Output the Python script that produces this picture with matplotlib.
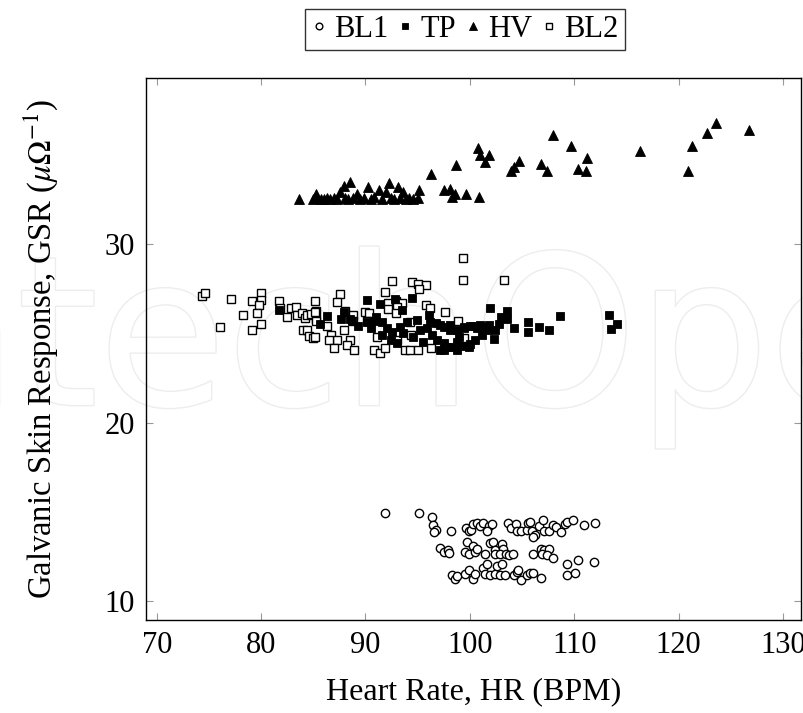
import matplotlib
matplotlib.use('Agg')
import matplotlib.pyplot as plt
import matplotlib.patheffects as pe

plt.rcParams['font.family'] = ['Liberation Serif', 'DejaVu Serif']
plt.rcParams['mathtext.fontset'] = 'stix'

# BL1 (open circles)
bl1_x = [91.9, 95.1, 96.4, 96.5, 96.8, 96.6, 98.2,
         99.6, 99.9, 100.1, 100.3, 100.7, 101.0, 101.3, 101.8, 102.1, 101.6,
         103.7, 103.95, 104.4, 104.5, 104.95, 105.5, 105.6, 105.8, 105.95, 106.2, 106.1, 106.6, 107.0, 107.1, 107.55,
         108.0, 108.3, 108.7, 109.1, 109.3, 109.9, 110.9, 112.0,
         97.15, 97.5, 97.9, 98.05, 99.7, 100.3, 99.55, 99.9, 100.5, 100.7,
         101.5, 101.9, 102.2, 102.4, 103.1, 103.2, 102.4, 102.9, 103.5, 103.8, 104.1,
         106.1, 106.8, 107.1, 106.95, 107.6, 107.4, 108.0, 109.3, 110.4, 111.9,
         98.3, 98.6, 98.8, 99.55, 99.9, 100.35, 100.5,
         101.3, 101.5, 101.6, 101.9, 102.4, 102.6, 102.9, 103.1, 103.35,
         104.2, 104.5, 104.6, 104.95, 105.5, 105.8, 106.1, 106.8, 109.3, 110.1]
bl1_y = [14.95, 14.95, 14.7, 14.25, 14.0, 13.85, 13.95,
         14.07, 13.9, 14.0, 14.3, 14.35, 14.2, 14.35, 14.2, 14.3, 13.9,
         14.4, 14.1, 14.3, 13.95, 13.9, 14.0, 14.35, 14.45, 13.9, 13.7, 13.6, 14.2, 14.55, 13.9, 13.9,
         14.25, 14.15, 13.85, 14.3, 14.45, 14.55, 14.25, 14.35,
         13.0, 12.75, 12.85, 12.7, 13.3, 13.1, 12.75, 12.65, 12.75, 12.9,
         12.65, 13.25, 13.3, 12.85, 13.2, 12.9, 12.65, 12.65, 12.65, 12.6, 12.65,
         12.65, 12.9, 12.85, 12.65, 12.9, 12.6, 12.4, 12.1, 12.3, 12.2,
         11.45, 11.25, 11.4, 11.5, 11.75, 11.25, 11.5,
         11.85, 11.5, 12.1, 11.45, 11.5, 11.95, 11.45, 12.1, 11.45,
         11.45, 11.65, 11.75, 11.2, 11.45, 11.55, 11.6, 11.3, 11.45, 11.55]

# TP (filled squares)
tp_x = [81.7, 85.6, 86.3, 87.7, 87.9, 88.5, 88.7, 89.3, 90.1, 90.1, 90.5, 90.9, 91.0, 91.4, 91.6,
        92.85, 93.5, 94.45, 92.05, 92.5, 93.3, 93.6, 91.6, 92.4, 93.0, 94.0, 94.9, 94.6, 95.5,
        95.25, 95.9, 96.05, 96.2, 96.4, 96.8, 97.5, 98.1, 98.75, 99.4, 100.0, 100.7, 101.3, 101.8,
        96.85, 97.5, 98.1, 98.75, 99.4, 100.0, 97.5, 98.75, 97.15, 98.1, 99.4, 100.35, 101.0, 101.6,
        97.8, 99.9, 97.15, 99.0, 100.5, 101.2, 101.9, 102.8, 103.0, 103.55, 103.6, 104.2, 102.4, 102.3,
        105.6, 105.6, 106.6, 107.55, 108.65, 113.3, 114.1, 113.5]
tp_y = [26.3, 25.5, 25.95, 25.8, 26.2, 25.8, 25.7, 25.4, 26.85, 25.65, 25.3, 25.7, 25.9, 26.65, 25.65,
        26.9, 26.3, 27.0, 25.3, 25.1, 25.35, 25.0, 24.9, 24.6, 24.45, 25.65, 25.75, 24.8, 24.5,
        25.2, 25.3, 26.0, 25.65, 24.9, 25.55, 25.35, 25.45, 25.2, 25.35, 25.4, 25.3, 25.35, 25.45,
        24.6, 24.45, 24.25, 24.5, 24.3, 24.4, 24.05, 24.05, 25.45, 25.2, 25.3, 25.4, 25.45, 25.2,
        24.25, 24.25, 24.05, 24.8, 24.6, 24.9, 26.4, 25.5, 25.9, 26.25, 25.8, 25.3, 25.2, 24.7,
        25.65, 25.1, 25.35, 25.2, 25.95, 26.0, 25.5, 25.25]

# HV (filled triangles)
hv_x = [83.6, 85.0, 85.3, 85.4, 85.7, 86.0, 86.3, 86.6, 87.0, 87.3, 87.6, 87.9, 88.0, 88.3, 88.5,
        88.8, 89.2, 89.5, 89.9, 90.2, 90.5, 90.8, 91.3, 91.6, 92.0, 92.3, 92.4, 92.7, 93.1, 93.3,
        93.6, 93.9, 94.2, 94.6, 95.0, 95.1, 96.3, 97.5, 98.1, 98.6, 98.3, 99.6, 100.9,
        98.7, 100.8, 101.0, 101.8, 101.5, 103.9, 104.2, 104.7, 106.8, 107.4,
        108.0, 109.7, 110.4, 111.2, 111.1, 116.3, 120.9, 121.3, 122.7, 123.6, 126.8]
hv_y = [32.5, 32.55, 32.8, 32.6, 32.5, 32.55, 32.6, 32.5, 32.6, 32.55, 32.9, 33.25, 32.6, 32.5, 33.5,
        32.6, 32.8, 32.55, 32.6, 33.2, 32.5, 32.65, 33.0, 32.55, 32.9, 33.4, 32.6, 32.5, 33.2, 32.6,
        32.9, 32.55, 32.6, 32.5, 32.6, 33.05, 33.9, 33.05, 33.1, 32.8, 32.65, 32.8, 32.65,
        34.4, 35.4, 35.0, 35.0, 34.6, 34.1, 34.3, 34.65, 34.5, 34.1,
        36.1, 35.5, 34.2, 34.8, 34.1, 35.2, 34.1, 35.5, 36.2, 36.8, 36.4]

# BL2 (open squares)
bl2_x = [74.3, 74.6, 77.1, 76.1, 78.3, 79.1, 80.0, 80.0, 79.8, 79.6, 79.1, 80.0,
         81.7, 81.8, 82.5, 82.9, 83.3, 83.4, 83.9, 84.2, 84.4, 84.8, 85.2, 85.25, 85.3,
         84.05, 84.4, 84.6, 85.0, 85.2,
         99.3, 99.3, 103.3, 92.5, 94.5, 95.0, 95.8, 95.1, 91.9, 87.6, 87.3,
         92.2, 92.9, 93.5, 93.0, 92.2, 92.9, 95.8, 96.2, 97.6, 98.9,
         88.05, 88.85, 90.0, 90.3, 88.85, 90.1, 85.3, 86.3, 86.7, 87.9, 87.25, 86.5, 88.5,
         87.0, 88.2, 88.9, 85.15, 90.8, 91.4, 91.9, 93.8, 94.3, 95.0, 96.3, 94.3, 94.4,
         91.1, 93.0, 99.4]
bl2_y = [27.1, 27.25, 26.9, 25.35, 26.0, 26.8, 27.25, 26.85, 26.6, 26.15, 25.2, 25.5,
         26.8, 26.4, 25.9, 26.4, 26.5, 26.05, 26.15, 25.85, 26.0, 26.1, 26.8, 26.25, 25.8,
         25.2, 25.2, 24.85, 24.75, 26.2,
         29.2, 28.0, 28.0, 27.95, 27.9, 27.75, 27.7, 27.5, 27.3, 27.2, 26.75,
         26.7, 26.8, 26.7, 26.5, 26.35, 26.15, 26.6, 26.4, 26.2, 25.7,
         26.25, 26.05, 26.2, 26.15, 25.7, 25.7, 25.7, 25.4, 24.9, 25.2, 24.65, 24.6, 24.65,
         24.15, 24.35, 24.05, 24.8, 24.05, 23.9, 24.15, 24.05, 24.05, 24.05, 24.2, 25.65, 24.9,
         24.8, 24.6, 24.75]

x_ticks = [70, 80, 90, 100, 110, 120, 130]
y_ticks = [10, 20, 30]

fig = plt.figure(figsize=(8.04, 7.13), dpi=100)
ax = fig.add_axes([0.182, 0.1304, 0.8138, 0.7602])
ax.set_zorder(2)
ax.patch.set_alpha(0)

# faint watermark behind everything
fig.text(-0.22, 0.432, 'IntechOpen', fontsize=150, family='DejaVu Sans',
         color='white', ha='left', va='baseline', zorder=1,
         path_effects=[pe.withStroke(linewidth=2, foreground='#ededed')])

ax.plot(bl1_x, bl1_y, ls='none', marker='o', ms=6.0, mfc='white', mec='black', mew=1.0, label='BL1')
ax.plot(bl2_x, bl2_y, ls='none', marker='s', ms=5.8, mfc='white', mec='black', mew=1.0, label='BL2')
ax.plot(tp_x, tp_y, ls='none', marker='s', ms=5.8, mfc='black', mec='black', mew=0.6, label='TP')
ax.plot(hv_x, hv_y, ls='none', marker='^', ms=7.0, mfc='black', mec='black', mew=0.6, label='HV')

ax.set_xlim(69.0, 131.7)
ax.set_ylim(8.94, 39.3)
ax.set_xticks(x_ticks)
ax.set_yticks(y_ticks)
ax.tick_params(direction='in', length=5, width=0.8, color='#999999',
               top=True, right=True, labelsize=22, pad=8)
for s in ax.spines.values():
    s.set_linewidth(1.0)

ax.set_xlabel('Heart Rate, HR (BPM)', fontsize=23, labelpad=12)
ax.set_ylabel(r'Galvanic Skin Response, GSR ($\mu\Omega^{-1}$)', fontsize=23.5, labelpad=32)

h, l = ax.get_legend_handles_labels()
order = [0, 2, 3, 1]
leg = fig.legend([h[i] for i in order], ['BL1', 'TP', 'HV', 'BL2'], loc='upper center',
                 bbox_to_anchor=(0.578, 0.988), borderaxespad=0, ncol=4, fontsize=22,
                 frameon=True, fancybox=False, edgecolor='black', handlelength=0.5,
                 handletextpad=0.25, columnspacing=0.3, borderpad=0.2, markerscale=0.8)
leg.get_frame().set_linewidth(1.0)

plt.savefig('out.png', dpi=100)
